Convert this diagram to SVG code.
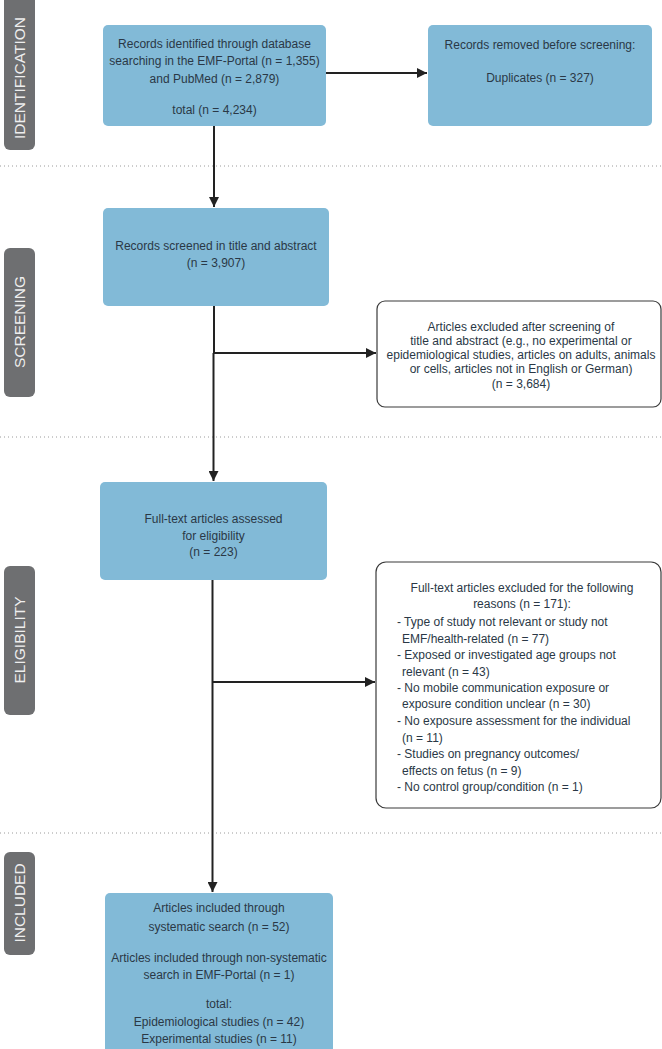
<svg xmlns="http://www.w3.org/2000/svg" width="662" height="1049" viewBox="0 0 662 1049">
<defs>
<style>
.blue{fill:#82bad7;}
.excl{fill:#ffffff;stroke:#3a3a3a;stroke-width:1.2;}
.side{fill:#6e6f71;}
.sidet{font-family:"Liberation Sans",Arial,sans-serif;font-size:15.5px;fill:#eeeeee;text-anchor:middle;dominant-baseline:central;}
.t{font-family:"Liberation Sans",Arial,sans-serif;font-size:12px;fill:#2a3846;text-anchor:middle;dominant-baseline:central;}
.tl{font-family:"Liberation Sans",Arial,sans-serif;font-size:12px;fill:#2a3846;dominant-baseline:central;}
.dot{stroke:#9a9a9a;stroke-width:1;stroke-dasharray:1 3;}
.con{stroke:#222222;stroke-width:2;fill:none;}
</style>
<marker id="arr" viewBox="0 0 10 10" refX="10" refY="5" markerWidth="5" markerHeight="5" orient="auto" markerUnits="strokeWidth">
<path d="M0,0 L10,5 L0,10 Z" fill="#222222"/>
</marker>
</defs>

<g id="separators">
<line class="dot" x1="0" y1="166" x2="662" y2="166"/>
<line class="dot" x1="0" y1="437" x2="662" y2="437"/>
<line class="dot" x1="0" y1="833" x2="662" y2="833"/>
</g>

<g id="stage-identification">
<rect class="side" x="4" y="-6" width="31" height="156" rx="6"/>
<text class="sidet" transform="translate(19.5 78) rotate(-90)">IDENTIFICATION</text>
</g>
<g id="stage-screening">
<rect class="side" x="4" y="248" width="31" height="149" rx="6"/>
<text class="sidet" transform="translate(19.5 322) rotate(-90)">SCREENING</text>
</g>
<g id="stage-eligibility">
<rect class="side" x="4" y="566" width="31" height="149" rx="6"/>
<text class="sidet" transform="translate(19.5 640) rotate(-90)">ELIGIBILITY</text>
</g>
<g id="stage-included">
<rect class="side" x="4" y="852" width="31" height="103" rx="6"/>
<text class="sidet" transform="translate(19.5 903) rotate(-90)">INCLUDED</text>
</g>

<g id="connectors">
<line class="con" x1="326" y1="73" x2="427" y2="73" marker-end="url(#arr)"/>
<line class="con" x1="214" y1="126" x2="214" y2="207" marker-end="url(#arr)"/>
<line class="con" x1="214" y1="306" x2="214" y2="353"/>
<line class="con" x1="214" y1="353" x2="376" y2="353" marker-end="url(#arr)"/>
<line class="con" x1="213.5" y1="353" x2="213.5" y2="481" marker-end="url(#arr)"/>
<line class="con" x1="212.5" y1="580" x2="212.5" y2="682"/>
<line class="con" x1="212.5" y1="682" x2="375" y2="682" marker-end="url(#arr)"/>
<line class="con" x1="212.5" y1="682" x2="212.5" y2="892" marker-end="url(#arr)"/>
</g>

<g id="identified">
<rect class="blue" x="103" y="25" width="223" height="101" rx="5"/>
<text class="t" x="214.5" y="44">Records identified through database</text>
<text class="t" x="214.5" y="61" font-size="11.6">searching in the EMF-Portal (n = 1,355)</text>
<text class="t" x="214.5" y="79">and PubMed (n = 2,879)</text>
<text class="t" x="214.5" y="110">total (n = 4,234)</text>
</g>

<g id="duplicates">
<rect class="blue" x="428" y="25" width="224" height="101" rx="5"/>
<text class="t" x="540" y="45">Records removed before screening:</text>
<text class="t" x="540" y="78">Duplicates (n = 327)</text>
</g>

<g id="screened">
<rect class="blue" x="103" y="208" width="226" height="98" rx="5"/>
<text class="t" x="216" y="246">Records screened in title and abstract</text>
<text class="t" x="216" y="263">(n = 3,907)</text>
</g>

<g id="excluded-screening">
<rect class="excl" x="377" y="301" width="284" height="106" rx="8"/>
<text class="t" x="521" y="327">Articles excluded after screening of</text>
<text class="t" x="521" y="341">title and abstract (e.g., no experimental or</text>
<text class="t" x="521" y="355">epidemiological studies, articles on adults, animals</text>
<text class="t" x="521" y="369">or cells, articles not in English or German)</text>
<text class="t" x="521" y="384">(n = 3,684)</text>
</g>

<g id="assessed">
<rect class="blue" x="100" y="482" width="227" height="98" rx="5"/>
<text class="t" x="213.5" y="519">Full-text articles assessed</text>
<text class="t" x="213.5" y="536">for eligibility</text>
<text class="t" x="213.5" y="552">(n = 223)</text>
</g>

<g id="excluded-eligibility">
<rect class="excl" x="376" y="562" width="285" height="246" rx="10"/>
<text class="t" x="522" y="588">Full-text articles excluded  for the following</text>
<text class="t" x="522" y="604">reasons (n = 171):</text>
<text class="tl" x="397" y="622">- Type of study not relevant or study not</text>
<text class="tl" x="402" y="639">EMF/health-related (n = 77)</text>
<text class="tl" x="397" y="655">- Exposed or investigated age groups not</text>
<text class="tl" x="402" y="672">relevant (n = 43)</text>
<text class="tl" x="397" y="688">- No mobile communication exposure or</text>
<text class="tl" x="402" y="704">exposure condition unclear (n = 30)</text>
<text class="tl" x="397" y="721">- No exposure assessment for the individual</text>
<text class="tl" x="402" y="738">(n = 11)</text>
<text class="tl" x="397" y="754">- Studies on pregnancy outcomes/</text>
<text class="tl" x="402" y="771">effects on fetus (n = 9)</text>
<text class="tl" x="397" y="787">- No control group/condition (n = 1)</text>
</g>

<g id="included">
<rect class="blue" x="105" y="893" width="228" height="160" rx="5"/>
<text class="t" x="219" y="908">Articles included through</text>
<text class="t" x="219" y="927">systematic search (n = 52)</text>
<text class="t" x="219" y="958">Articles included through non-systematic</text>
<text class="t" x="219" y="975">search in EMF-Portal (n = 1)</text>
<text class="t" x="219" y="1004">total:</text>
<text class="t" x="219" y="1022">Epidemiological studies (n = 42)</text>
<text class="t" x="219" y="1039">Experimental  studies (n = 11)</text>
</g>
</svg>
